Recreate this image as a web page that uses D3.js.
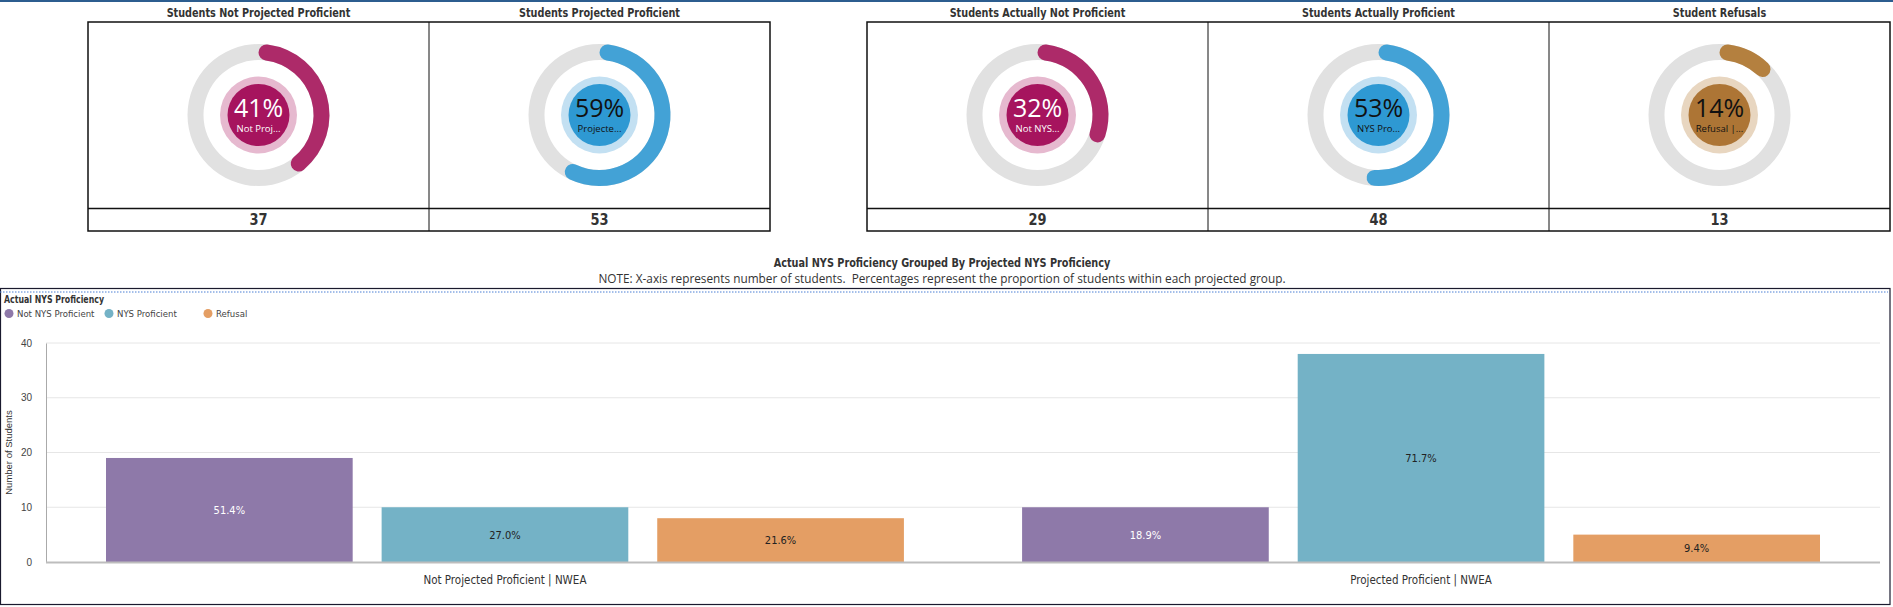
<!DOCTYPE html>
<html>
<head>
<meta charset="utf-8">
<script src="https://cdn.jsdelivr.net/npm/d3@7"></script>
<style>
  html, body { margin: 0; padding: 0; background: #fff; }
  svg { display: block; }
</style>
</head>
<body>
<div id="chart"></div>
<script>
// KPI tiles
const kpiTitles = ["Students Not Projected Proficient", "Students Projected Proficient", "Students Actually Not Proficient", "Students Actually Proficient", "Student Refusals"];
const kpiPercents = [41, 59, 32, 53, 14];
const kpiLabels = ["Not Proj...", "Projecte...", "Not NYS...", "NYS Pro...", "Refusal |..."];
const kpiCounts = [37, 53, 29, 48, 13];

// grouped bar chart
const groups = ["Not Projected Proficient | NWEA", "Projected Proficient | NWEA"];
const series = ["Not NYS Proficient", "NYS Proficient", "Refusal"];
const notProjectedValues = [19, 10, 8];
const projectedValues = [10, 38, 5];
const yTicks = [0, 10, 20, 30, 40];

const W = 1893, H = 607;
const condensed = "'Liberation Sans Narrow', 'DejaVu Sans Condensed', sans-serif";
const plex = "'Open Sans', 'Noto Sans', sans-serif";
const arial = "'Liberation Sans', Arial, sans-serif";

const svg = d3.select("#chart").append("svg")
    .attr("width", W)
    .attr("height", H);

// squeeze bold condensed text a bit, the original face is narrower
function squeeze(sel, f) {
    sel.each(function () {
        const len = this.getComputedTextLength();
        d3.select(this).attr("textLength", len * f).attr("lengthAdjust", "spacingAndGlyphs");
    });
}

// top strip
svg.append("rect").attr("x", 0).attr("y", 0).attr("width", W).attr("height", 2).attr("fill", "#2c5d8f");

// ---- KPI donuts ----
const palettes = {
    pink:  { arc: "#ad2a69", dark: "#a6145e", light: "#e6b9cf", text: "#fff" },
    blue:  { arc: "#43a2d6", dark: "#2e99d3", light: "#c3e0f2", text: "#111" },
    brown: { arc: "#b4803f", dark: "#ad7535", light: "#e8d6c0", text: "#111" }
};
const kpiPalette = ["pink", "blue", "pink", "blue", "brown"];

const panelW = 341;
const panelX = [88, 88 + panelW, 867, 867 + panelW, 867 + panelW * 2];
const boxTop = 22, boxMid = 208.5, boxBottom = 231;

// outlines for the two tile groups
[[0, 2], [2, 5]].forEach(([a, b]) => {
    const x0 = panelX[a], x1 = panelX[b - 1] + panelW;
    const g = svg.append("g").attr("fill", "none").attr("stroke", "#111");
    g.append("rect").attr("x", x0).attr("y", boxTop).attr("width", x1 - x0).attr("height", boxBottom - boxTop).attr("stroke-width", 1.5);
    g.append("line").attr("x1", x0).attr("x2", x1).attr("y1", boxMid).attr("y2", boxMid).attr("stroke-width", 1.3);
    for (let i = a + 1; i < b; i++) {
        g.append("line").attr("x1", panelX[i]).attr("x2", panelX[i]).attr("y1", boxTop).attr("y2", boxBottom).attr("stroke-width", 1);
    }
});

const rOuter = 71, rInner = 55;
const track = d3.arc().innerRadius(rInner).outerRadius(rOuter).startAngle(0).endAngle(2 * Math.PI);
const valueArc = d3.arc().innerRadius(rInner).outerRadius(rOuter).cornerRadius(8).startAngle(0);

kpiTitles.forEach((t, i) => {
    const cx = panelX[i] + panelW / 2, cy = 115;
    const pal = palettes[kpiPalette[i]];

    svg.append("text")
        .attr("x", cx).attr("y", 17)
        .attr("text-anchor", "middle")
        .attr("font-family", condensed)
        .attr("font-weight", "bold")
        .attr("font-size", 12.5)
        .attr("fill", "#333")
        .text(t)
        .call(squeeze, 0.86);

    const g = svg.append("g").attr("transform", `translate(${cx},${cy})`);
    g.append("path").attr("d", track()).attr("fill", "#e1e1e1");
    g.append("path").attr("d", valueArc({ endAngle: kpiPercents[i] / 100 * 2 * Math.PI })).attr("fill", pal.arc);
    g.append("circle").attr("r", 38.5).attr("fill", pal.light);
    g.append("circle").attr("r", 31).attr("fill", pal.dark);
    g.append("text")
        .attr("y", 2).attr("text-anchor", "middle")
        .attr("font-family", plex).attr("font-size", 25)
        .attr("fill", pal.text)
        .text(kpiPercents[i] + "%");
    g.append("text")
        .attr("y", 17).attr("text-anchor", "middle")
        .attr("font-family", plex).attr("font-size", 9.5)
        .attr("fill", pal.text)
        .text(kpiLabels[i]);

    svg.append("text")
        .attr("x", cx).attr("y", 225)
        .attr("text-anchor", "middle")
        .attr("font-family", condensed)
        .attr("font-weight", "bold")
        .attr("font-size", 16)
        .attr("fill", "#333")
        .text(kpiCounts[i])
        .call(squeeze, 0.9);
});

// ---- bar chart ----
svg.append("text")
    .attr("x", 942).attr("y", 267)
    .attr("text-anchor", "middle")
    .attr("font-family", condensed).attr("font-weight", "bold").attr("font-size", 12)
    .attr("fill", "#333")
    .text("Actual NYS Proficiency Grouped By Projected NYS Proficiency")
    .call(squeeze, 0.9);
svg.append("text")
    .attr("x", 942).attr("y", 283)
    .attr("text-anchor", "middle")
    .attr("font-family", plex).attr("font-size", 11.8)
    .attr("fill", "#333")
    .style("white-space", "pre")
    .text("NOTE: X-axis represents number of students.  Percentages represent the proportion of students within each projected group.");

// frame
svg.append("rect").attr("x", 0.5).attr("y", 288.5).attr("width", 1889.5).attr("height", 316)
    .attr("fill", "none").attr("stroke", "#1a1a2e").attr("stroke-width", 1.2);
svg.append("line").attr("x1", 0).attr("x2", 1888).attr("y1", 292).attr("y2", 292)
    .attr("stroke", "#4a7fd4").attr("stroke-width", 1).attr("stroke-dasharray", "1.5,1.5");

const colors = d3.scaleOrdinal().domain(series).range(["#8e79a9", "#74b2c6", "#e49e64"]);

// legend
svg.append("text")
    .attr("x", 4).attr("y", 303)
    .attr("font-family", condensed).attr("font-weight", "bold").attr("font-size", 10)
    .attr("fill", "#333")
    .text("Actual NYS Proficiency")
    .call(squeeze, 0.87);
const legendX = [4, 104, 203];
series.forEach((s, i) => {
    svg.append("circle").attr("cx", legendX[i] + 5).attr("cy", 313.5).attr("r", 4.5).attr("fill", colors(s));
    svg.append("text")
        .attr("x", legendX[i] + 13).attr("y", 317)
        .attr("font-family", condensed).attr("font-size", 9.5)
        .attr("fill", "#444")
        .text(s);
});

const x0 = d3.scaleBand().domain(groups).range([46, 1880]).paddingInner(0.129).paddingOuter(0.0655);
const x1 = d3.scaleBand().domain(series).range([0, x0.bandwidth()]).paddingInner(0.105);
const y = d3.scaleLinear().domain([0, 40]).range([562, 343]);

// gridlines
svg.append("g").selectAll("line")
    .data(yTicks.filter(d => d > 0))
    .join("line")
    .attr("x1", 46).attr("x2", 1880)
    .attr("y1", d => y(d)).attr("y2", d => y(d))
    .attr("stroke", "#e6e6e6").attr("stroke-width", 1);

// y axis
const yAxis = svg.append("g")
    .attr("transform", "translate(46,0)")
    .call(d3.axisLeft(y).tickValues(yTicks).tickSize(0).tickPadding(14));
yAxis.select(".domain").attr("stroke", "#aaa");
yAxis.selectAll("text").attr("font-family", arial).attr("font-size", 10).attr("fill", "#444");

svg.append("text")
    .attr("transform", `translate(12,${(y(0) + y(40)) / 2}) rotate(-90)`)
    .attr("text-anchor", "middle")
    .attr("font-family", arial).attr("font-size", 9.5).attr("fill", "#333")
    .text("Number of Students");

const tableRows = [notProjectedValues, projectedValues];
const barData = [];
groups.forEach((g, gi) => {
    const total = d3.sum(tableRows[gi]);
    series.forEach((s, si) => {
        barData.push({ group: g, series: s, value: tableRows[gi][si], pct: tableRows[gi][si] / total * 100 });
    });
});

const bars = svg.append("g");
bars.selectAll("rect")
    .data(barData)
    .join("rect")
    .attr("x", d => x0(d.group) + x1(d.series))
    .attr("y", d => y(d.value))
    .attr("width", x1.bandwidth())
    .attr("height", d => y(0) - y(d.value))
    .attr("fill", d => colors(d.series));

bars.selectAll("text")
    .data(barData)
    .join("text")
    .attr("x", d => x0(d.group) + x1(d.series) + x1.bandwidth() / 2)
    .attr("y", d => (y(d.value) + y(0)) / 2 + 4)
    .attr("text-anchor", "middle")
    .attr("font-family", condensed).attr("font-size", 11)
    .attr("fill", d => d.series === "Not NYS Proficient" ? "#fff" : "#222")
    .text(d => d.pct.toFixed(1) + "%");

// baseline
svg.append("line")
    .attr("x1", 46).attr("x2", 1880)
    .attr("y1", y(0) + 0.5).attr("y2", y(0) + 0.5)
    .attr("stroke", "#bdbdbd").attr("stroke-width", 2);

// group labels
svg.append("g").selectAll("text")
    .data(groups)
    .join("text")
    .attr("x", d => x0(d) + x0.bandwidth() / 2)
    .attr("y", 584)
    .attr("text-anchor", "middle")
    .attr("font-family", condensed).attr("font-size", 11.5)
    .attr("fill", "#333")
    .text(d => d);
</script>
</body>
</html>
